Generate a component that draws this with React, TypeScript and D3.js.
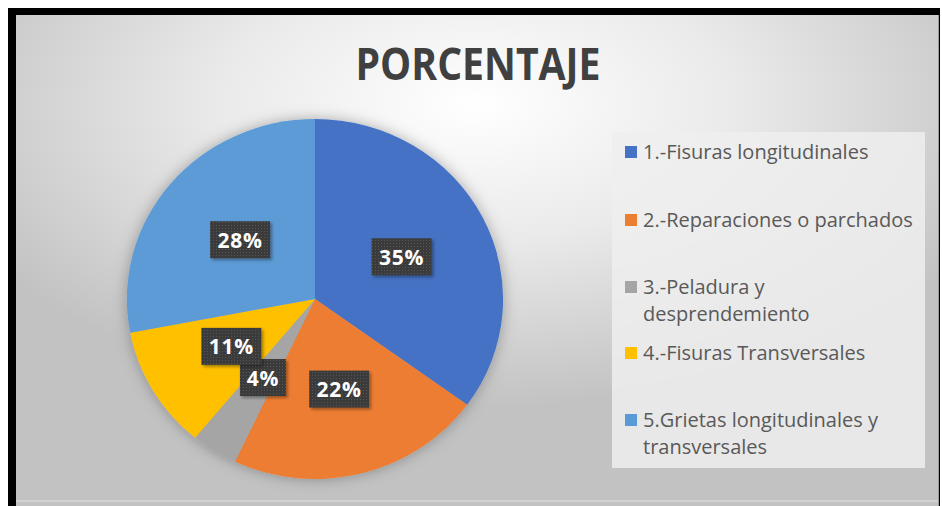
import React from "react";
import * as d3 from "d3";

const categories = [
  "1.-Fisuras longitudinales",
  "2.-Reparaciones o parchados",
  "3.-Peladura y desprendemiento",
  "4.-Fisuras Transversales",
  "5.Grietas longitudinales y transversales",
];
const legendLines = [
  ["1.-Fisuras longitudinales"],
  ["2.-Reparaciones o parchados"],
  ["3.-Peladura y", "desprendemiento"],
  ["4.-Fisuras Transversales"],
  ["5.Grietas longitudinales y", "transversales"],
];
const values = [35, 22, 4, 11, 28];
const colors = ["#4472C4", "#ED7D31", "#A5A5A5", "#FFC000", "#5B9BD5"];
const title = "PORCENTAJE";

const W = 942;
const H = 506;

export default function App() {
  const cx = 315;
  const cy = 299;
  const R = 180;
  const sx = 1.045;
  const pie = d3.pie<number>().sort(null).value((d) => d)(values);
  const arc = d3.arc<d3.PieArcDatum<number>>().innerRadius(0).outerRadius(R);
  const labelArc = d3.arc<d3.PieArcDatum<number>>().innerRadius(0).outerRadius(186);
  const total = d3.sum(values);
  const legendY = [152, 220, 287, 353, 420];

  return (
    <div style={{ position: "fixed", left: 0, top: 0, width: W, height: H, background: "#fff" }}>
      <svg width={W} height={H} style={{ display: "block" }}>
        <defs>
          <radialGradient id="bg" cx="0.5" cy="0.18" r="0.62" gradientUnits="objectBoundingBox" fx="0.5" fy="0.18">
            <stop offset="0" stopColor="#ffffff" />
            <stop offset="0.45" stopColor="#eaeaea" />
            <stop offset="1" stopColor="#c2c2c2" />
          </radialGradient>
          <pattern id="dots" width="3" height="3" patternUnits="userSpaceOnUse">
            <rect width="3" height="3" fill="#3b3b3b" />
            <rect width="1" height="1" fill="#555" />
          </pattern>
          <filter id="pieShadow" x="-20%" y="-20%" width="140%" height="140%">
            <feDropShadow dx="0" dy="0" stdDeviation="7" floodColor="#000" floodOpacity="0.3" />
          </filter>
          <filter id="boxShadow" x="-20%" y="-20%" width="150%" height="150%">
            <feDropShadow dx="2" dy="2" stdDeviation="1.5" floodColor="#000" floodOpacity="0.35" />
          </filter>
        </defs>
        <rect x={0} y={0} width={W} height={H} fill="#fff" />
        <rect x={8} y={8} width={932} height={H - 8} fill="#000" />
        <rect x={16} y={15} width={922} height={H - 15} fill="url(#bg)" />
        <line x1={16} x2={938} y1={501} y2={501} stroke="#e2e2e2" strokeWidth={1} />
        <line x1={938.5} x2={938.5} y1={15} y2={H} stroke="#9a9a9a" strokeWidth={1} />

        <text
          x={478}
          y={80}
          textAnchor="middle"
          fontFamily="'Open Sans', sans-serif"
          fontWeight={700}
          fontSize={44}
          fill="#404040"
          textLength={245}
          lengthAdjust="spacingAndGlyphs"
        >
          {title}
        </text>

        <g transform={`translate(${cx},${cy}) scale(${sx},1)`} filter="url(#pieShadow)">
          {pie.map((p, i) => (
            <path key={i} d={arc(p) || ""} fill={colors[i]} />
          ))}
        </g>

        {pie.map((p, i) => {
          const [lx, ly] = labelArc.centroid(p);
          const x = cx + lx * sx;
          const y = cy + ly;
          const txt = `${Math.round((p.value / total) * 100)}%`;
          const digits = txt.length - 1;
          const bw = 32 + digits * 14;
          const bh = 37;
          return (
            <g key={i}>
              <rect
                x={x - bw / 2}
                y={y - bh / 2}
                width={bw}
                height={bh}
                fill="url(#dots)"
                filter="url(#boxShadow)"
              />
              <text
                x={x}
                y={y + 8}
                textAnchor="middle"
                fontFamily="'Open Sans', sans-serif"
                fontWeight={700}
                fontSize={21}
                letterSpacing={0.8}
                fill="#ffffff"
              >
                {txt}
              </text>
            </g>
          );
        })}

        <rect x={612} y={132} width={313} height={336} fill="#efefef" opacity={0.85} />
        {categories.map((c, i) => (
          <g key={c}>
            <rect x={625} y={legendY[i] - 6} width={12} height={12} fill={colors[i]} />
            {legendLines[i].map((ln, j) => (
              <text
                key={j}
                x={643}
                y={legendY[i] + 7 + j * 27}
                fontFamily="'Open Sans', sans-serif"
                fontSize={20}
                fill="#595959"
              >
                {ln}
              </text>
            ))}
          </g>
        ))}
      </svg>
    </div>
  );
}
